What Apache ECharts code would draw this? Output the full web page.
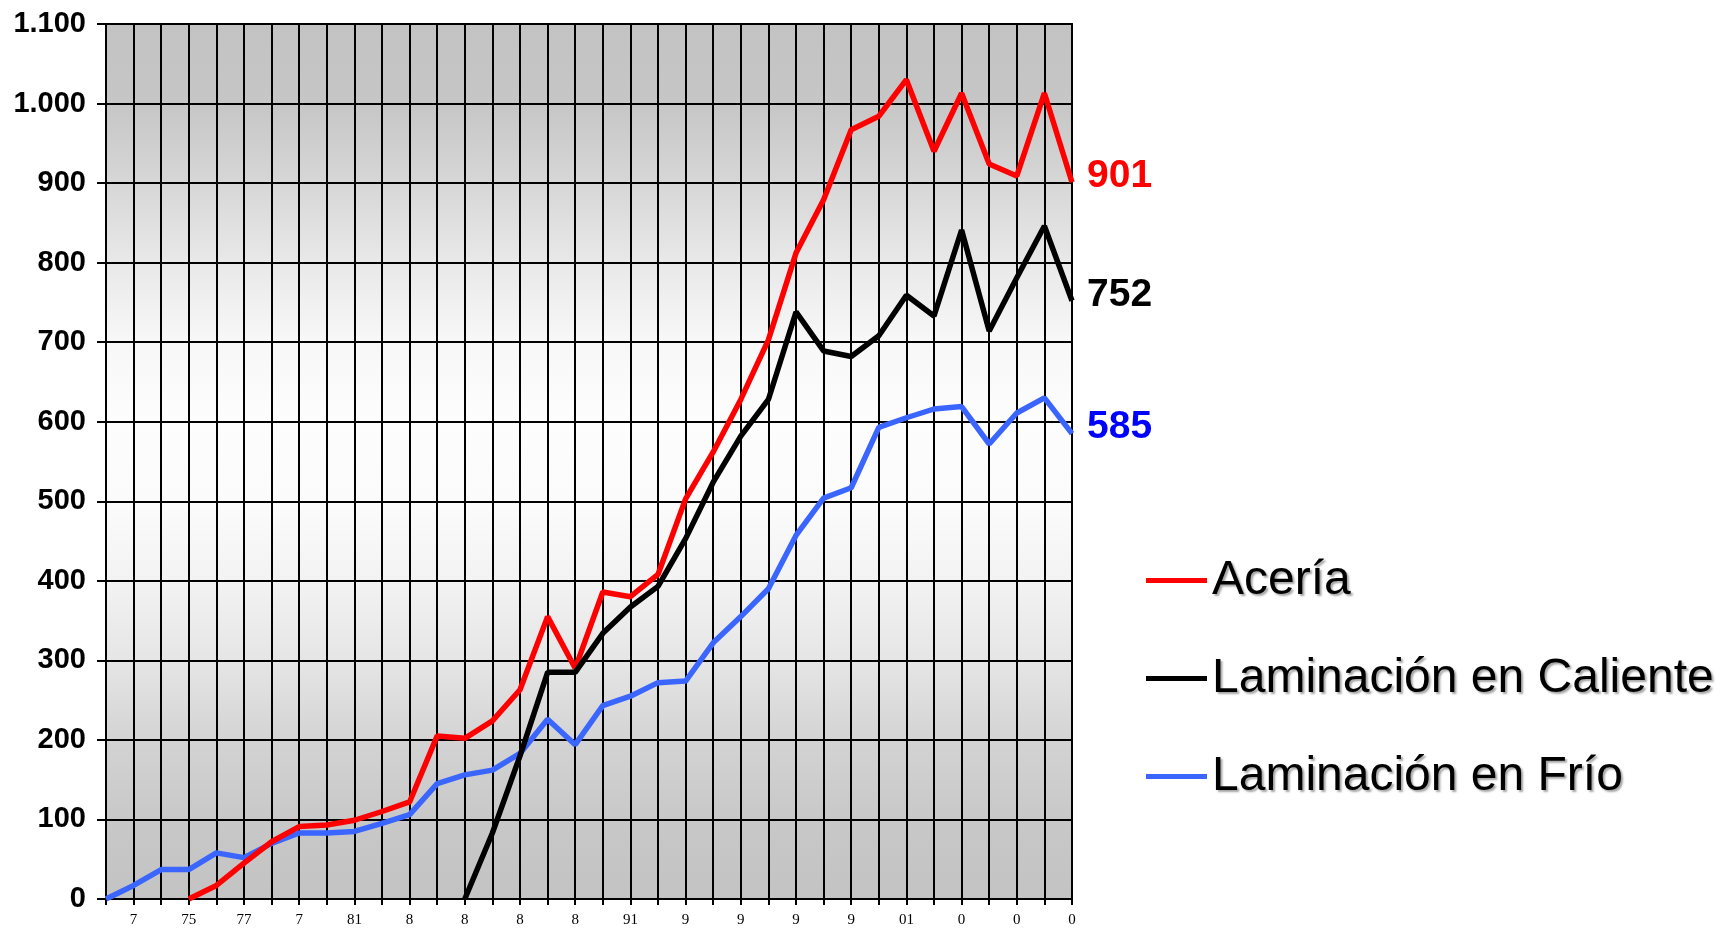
<!DOCTYPE html>
<html>
<head>
<meta charset="utf-8">
<script src="https://cdn.jsdelivr.net/npm/echarts@6/dist/echarts.min.js"></script>
<style>
html,body{margin:0;padding:0;background:#fff;}
#chart{width:1717px;height:929px;}
</style>
</head>
<body>
<div id="chart"></div>
<script>
// Categories: years 1972 .. 2007
var years = ['1972','1973','1974','1975','1976','1977','1978','1979','1980','1981','1982','1983',
  '1984','1985','1986','1987','1988','1989','1990','1991','1992','1993','1994','1995',
  '1996','1997','1998','1999','2000','2001','2002','2003','2004','2005','2006','2007'];
// Tick labels as printed under the axis
var xTickLabels = ['','7','','75','','77','','7','','81','','8','','8','','8','','8',
  '','91','','9','','9','','9','','9','','01','','0','','0','','0'];
var yTicks = [0,100,200,300,400,500,600,700,800,900,1000,1100];

var seriesNames = ['Acería','Laminación en Caliente','Laminación en Frío'];

var aceria = [null,null,null,0,17,45,72,91,93,99,110,122,205,202,224,263,355,290,
  386,380,408,503,562,628,703,812,879,967,984,1030,940,1013,924,909,1013,901];
var calientes = [null,null,null,null,null,null,null,null,null,null,null,null,null,0,83,180,285,285,
  334,367,393,453,524,582,628,738,689,682,708,759,733,841,714,781,846,752];
var frio = [0,17,37,37,58,52,70,83,83,85,95,106,145,156,162,183,226,194,
  243,255,272,274,322,355,390,457,504,517,593,605,616,619,572,611,630,585];

var chart = echarts.init(document.getElementById('chart'), null, {renderer:'canvas'});

function fmtThousands(v){
  return String(v).replace(/\B(?=(\d{3})+(?!\d))/g, '.');
}

var bg = new echarts.graphic.LinearGradient(0,0,0,1,[
  {offset:0, color:'#c3c3c3'},
  {offset:0.09, color:'#c6c6c6'},
  {offset:0.18, color:'#d6d6d6'},
  {offset:0.27, color:'#e8e8e8'},
  {offset:0.36, color:'#f7f7f7'},
  {offset:0.45, color:'#fdfdfd'},
  {offset:0.55, color:'#fbfbfb'},
  {offset:0.64, color:'#f2f2f2'},
  {offset:0.73, color:'#e5e5e5'},
  {offset:0.82, color:'#d3d3d3'},
  {offset:0.91, color:'#c8c8c8'},
  {offset:1, color:'#c3c3c3'}
]);

function endLbl(color){
  return {
    show:true,
    formatter:function(p){ return p.value; },
    color:color,
    fontFamily:'Liberation Sans, Arial, sans-serif',
    fontWeight:'bold',
    fontSize:39,
    distance:15,
    offset:[0,-6]
  };
}

var option = {
  backgroundColor:'#ffffff',
  animation:false,
  grid:{
    left:106, top:24, width:966, height:875,
    show:true, backgroundColor:bg, borderColor:'#000', borderWidth:2
  },
  legend:{
    orient:'vertical',
    left:1141, top:549,
    data:seriesNames,
    icon:'rect',
    itemWidth:61, itemHeight:5,
    itemGap:45,
    textStyle:{
      fontFamily:'Liberation Sans, Arial, sans-serif',
      fontSize:48, color:'#000', lineHeight:53,
      textShadowColor:'rgba(0,0,0,0.35)', textShadowOffsetX:2, textShadowOffsetY:2, textShadowBlur:2
    },
    itemStyle:{borderWidth:0}
  },
  xAxis:{
    type:'category',
    data:years,
    boundaryGap:false,
    axisLine:{show:true, lineStyle:{color:'#000', width:2}},
    axisTick:{show:true, interval:0, length:6, lineStyle:{color:'#000', width:2}},
    axisLabel:{
      interval:0, margin:14,
      fontFamily:'Liberation Serif, Times New Roman, serif', fontSize:15, color:'#000',
      formatter:function(v, i){ return xTickLabels[i]; }
    },
    splitLine:{show:true, interval:0, lineStyle:{color:'#000', width:2}}
  },
  yAxis:{
    type:'value',
    min:yTicks[0], max:yTicks[yTicks.length-1], interval:100,
    axisLine:{show:true, lineStyle:{color:'#000', width:2}},
    axisTick:{show:true, inside:false, length:9, lineStyle:{color:'#000', width:2}},
    axisLabel:{
      margin:20,
      fontFamily:'Liberation Sans, Arial, sans-serif', fontWeight:'bold', fontSize:29, color:'#000',
      formatter:function(v){ return fmtThousands(v); }
    },
    splitLine:{show:true, lineStyle:{color:'#000', width:2}}
  },
  series:[
    {
      name:seriesNames[2], type:'line', data:frio, symbol:'none',
      lineStyle:{color:'#3a66ff', width:5.5}, itemStyle:{color:'#3a66ff'},
      endLabel:endLbl('#0000ff'), z:2
    },
    {
      name:seriesNames[0], type:'line', data:aceria, symbol:'none',
      lineStyle:{color:'#ff0000', width:5.5}, itemStyle:{color:'#ff0000'},
      endLabel:endLbl('#ff0000'), z:3
    },
    {
      name:seriesNames[1], type:'line', data:calientes, symbol:'none',
      lineStyle:{color:'#000000', width:5.5}, itemStyle:{color:'#000000'},
      endLabel:endLbl('#000000'), z:4
    }
  ]
};
chart.setOption(option);
</script>
</body>
</html>
